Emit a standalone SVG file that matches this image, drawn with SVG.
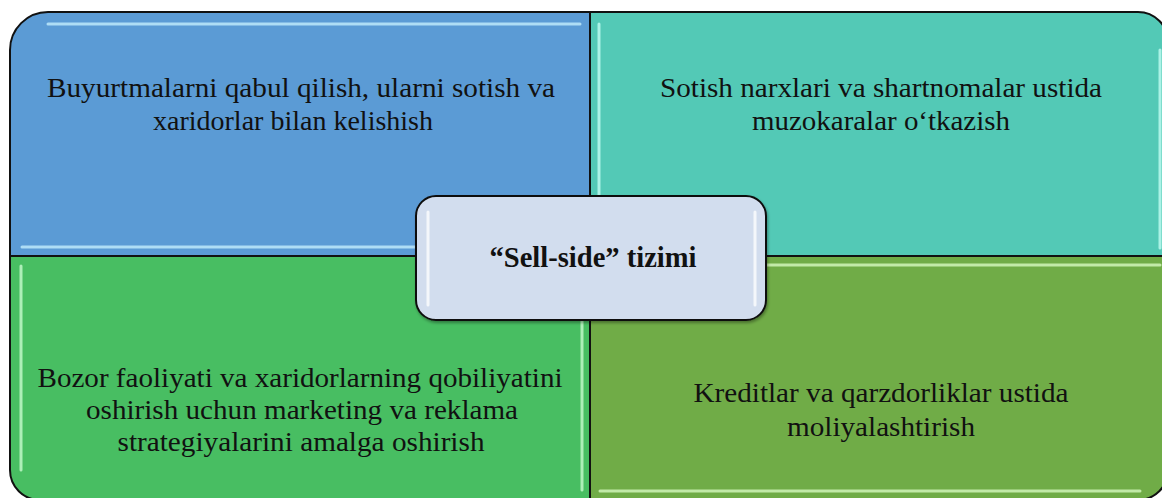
<svg xmlns="http://www.w3.org/2000/svg" width="1162" height="498" viewBox="0 0 1162 498">
<style>
.q{stroke:#111;stroke-width:2}
.hl{stroke-width:3;stroke-linecap:round;fill:none;opacity:.75}
.t{font-family:"Liberation Serif","Times New Roman",serif;font-size:28px;fill:#111;text-anchor:middle}
.c{font-weight:bold;font-size:30px}
</style>
<defs>
<filter id="sh" x="-5%" y="-5%" width="110%" height="115%"><feDropShadow dx="1" dy="2" stdDeviation="1.5" flood-color="#000" flood-opacity=".35"/></filter>
</defs>
<rect width="1162" height="498" fill="#fff"/>
<g id="q1">
<path class="q" fill="#5B9BD5" d="M10,256 V50 A38,38 0 0 1 48,12 H590 V256 Z"/>
<path class="hl" stroke="#C9F3FF" d="M48,24 H580 M22,247 H584"/>
<text class="t"><tspan x="301" y="97" textLength="508" lengthAdjust="spacingAndGlyphs">Buyurtmalarni qabul qilish, ularni sotish va</tspan><tspan x="293" y="130" textLength="280" lengthAdjust="spacingAndGlyphs">xaridorlar bilan kelishish</tspan></text>
</g>
<g id="q2">
<path class="q" fill="#53C9B6" d="M590,12 H1138 A30,30 0 0 1 1168,42 V256 H590 Z"/>
<path class="hl" stroke="#C8FFF6" d="M599,24 V248 M1160,50 V248"/>
<text class="t"><tspan x="881" y="97" textLength="442" lengthAdjust="spacingAndGlyphs">Sotish narxlari va shartnomalar ustida</tspan><tspan x="881" y="130" textLength="258" lengthAdjust="spacingAndGlyphs">muzokaralar o‘tkazish</tspan></text>
</g>
<g id="q3">
<path class="q" fill="#48BE62" d="M10,256 H590 V500 H40 A30,30 0 0 1 10,470 Z"/>
<path class="hl" stroke="#CFFFD6" d="M21,266 V470 M582,266 V490"/>
<text class="t"><tspan x="300" y="387" textLength="525" lengthAdjust="spacingAndGlyphs">Bozor faoliyati va xaridorlarning qobiliyatini</tspan><tspan x="302" y="419" textLength="432" lengthAdjust="spacingAndGlyphs">oshirish uchun marketing va reklama</tspan><tspan x="301" y="451" textLength="367" lengthAdjust="spacingAndGlyphs">strategiyalarini amalga oshirish</tspan></text>
</g>
<g id="q4">
<path class="q" fill="#70AC47" d="M590,256 H1168 V470 A30,30 0 0 1 1138,500 H590 Z"/>
<path class="hl" stroke="#DDFFC8" d="M600,265 H1160 M600,491 H1140"/>
<text class="t"><tspan x="881" y="402" textLength="375" lengthAdjust="spacingAndGlyphs">Kreditlar va qarzdorliklar ustida</tspan><tspan x="881" y="436" textLength="188" lengthAdjust="spacingAndGlyphs">moliyalashtirish</tspan></text>
</g>
<g id="center">
<rect x="416" y="196" width="350" height="124" rx="20" fill="#D2DDEE" stroke="#111" stroke-width="2" filter="url(#sh)"/>
<path class="hl" stroke="#FFFFFF" d="M428,212 V305 M755,212 V305"/>
<text class="t c" x="593" y="267" textLength="207" lengthAdjust="spacingAndGlyphs">“Sell-side” tizimi</text>
</g>
<g id="connectors"/>
</svg>
